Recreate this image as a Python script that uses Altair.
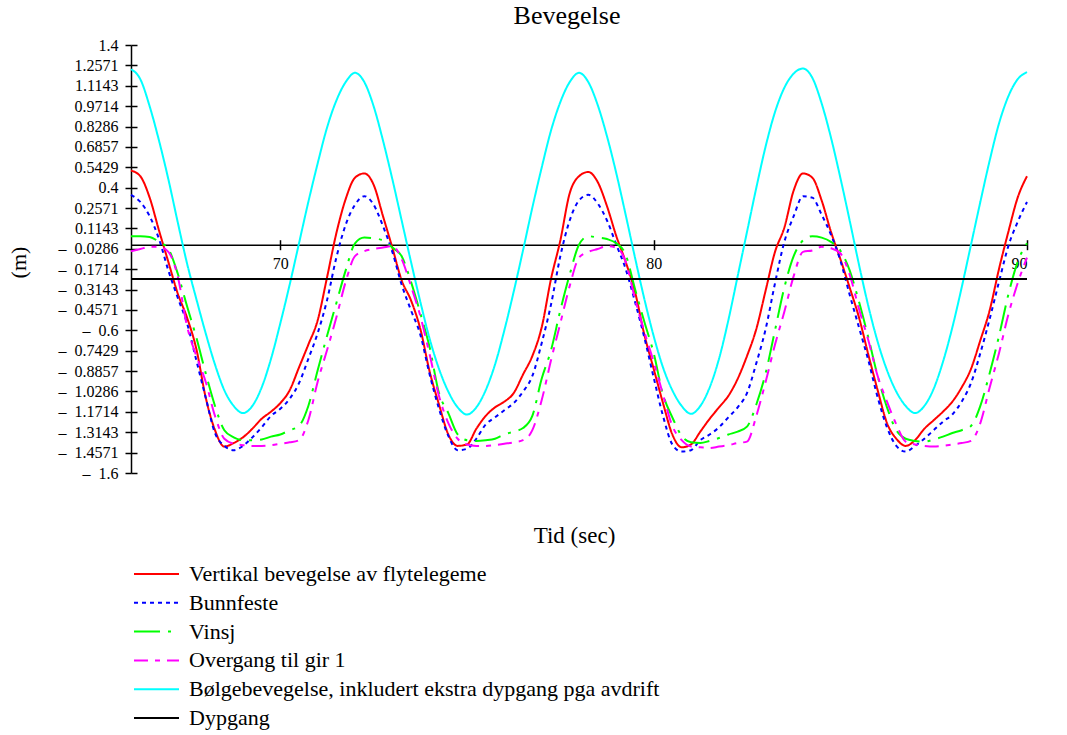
import altair as alt
import pandas as pd

# time axis (sec)
t = [66.0, 66.25, 66.5, 66.75, 67.0, 67.25, 67.5, 67.75, 68.0, 68.25, 68.5, 68.75,
     69.0, 69.25, 69.5, 69.75, 70.0, 70.25, 70.5, 70.75, 71.0, 71.25, 71.5, 71.75,
     72.0, 72.25, 72.5, 72.75, 73.0, 73.25, 73.5, 73.75, 74.0, 74.25, 74.5, 74.75,
     75.0, 75.25, 75.5, 75.75, 76.0, 76.25, 76.5, 76.75, 77.0, 77.25, 77.5, 77.75,
     78.0, 78.25, 78.5, 78.75, 79.0, 79.25, 79.5, 79.75, 80.0, 80.25, 80.5, 80.75,
     81.0, 81.25, 81.5, 81.75, 82.0, 82.25, 82.5, 82.75, 83.0, 83.25, 83.5, 83.75,
     84.0, 84.25, 84.5, 84.75, 85.0, 85.25, 85.5, 85.75, 86.0, 86.25, 86.5, 86.75,
     87.0, 87.25, 87.5, 87.75, 88.0, 88.25, 88.5, 88.75, 89.0, 89.25, 89.5, 89.75,
     90.0]

vertikal = [0.52, 0.48, 0.33, 0.10, -0.12, -0.34, -0.51, -0.73, -1.07, -1.30, -1.415, -1.39,
            -1.35, -1.29, -1.22, -1.17, -1.11, -1.02, -0.86, -0.70, -0.53, -0.23, 0.08, 0.32,
            0.47, 0.50, 0.42, 0.20, -0.02, -0.25, -0.39, -0.59, -0.89, -1.12, -1.33, -1.41,
            -1.40, -1.29, -1.20, -1.14, -1.10, -1.04, -0.91, -0.78, -0.58, -0.24, 0.03, 0.36,
            0.48, 0.51, 0.44, 0.27, 0.06, -0.12, -0.33, -0.63, -0.87, -1.11, -1.33, -1.42,
            -1.40, -1.31, -1.22, -1.14, -1.06, -0.94, -0.78, -0.59, -0.32, -0.05, 0.12, 0.38,
            0.50, 0.47, 0.31, 0.09, -0.10, -0.30, -0.51, -0.77, -1.02, -1.25, -1.36, -1.41,
            -1.37, -1.29, -1.23, -1.17, -1.10, -1.00, -0.87, -0.67, -0.46, -0.17, 0.09, 0.33,
            0.48]

bunnfeste = [0.35, 0.30, 0.20, 0.04, -0.18, -0.37, -0.55, -0.81, -1.07, -1.32, -1.41, -1.44,
             -1.41, -1.35, -1.28, -1.20, -1.15, -1.08, -0.97, -0.80, -0.62, -0.39, -0.09, 0.14,
             0.28, 0.34, 0.28, 0.13, -0.05, -0.28, -0.46, -0.63, -0.91, -1.15, -1.34, -1.44,
             -1.43, -1.36, -1.26, -1.21, -1.16, -1.11, -1.03, -0.92, -0.69, -0.42, -0.08, 0.17,
             0.31, 0.35, 0.29, 0.17, 0.00, -0.17, -0.40, -0.65, -0.93, -1.20, -1.40, -1.45,
             -1.44, -1.37, -1.33, -1.28, -1.21, -1.14, -1.04, -0.83, -0.59, -0.27, 0.02, 0.20,
             0.34, 0.33, 0.21, 0.07, -0.11, -0.35, -0.58, -0.81, -1.07, -1.28, -1.41, -1.45,
             -1.41, -1.36, -1.30, -1.24, -1.19, -1.10, -0.97, -0.76, -0.52, -0.26, -0.01, 0.16,
             0.30]

vinsj = [0.06, 0.06, 0.055, 0.02, -0.03, -0.20, -0.43, -0.65, -0.90, -1.13, -1.30, -1.35,
         -1.37, -1.37, -1.365, -1.345, -1.33, -1.30, -1.27, -1.13, -0.88, -0.64, -0.41, -0.18,
         0.01, 0.05, 0.045, 0.03, -0.02, -0.08, -0.26, -0.48, -0.72, -1.04, -1.18, -1.33,
         -1.37, -1.375, -1.37, -1.36, -1.33, -1.31, -1.285, -1.20, -0.94, -0.74, -0.46, -0.21,
         0.00, 0.06, 0.05, 0.04, 0.01, -0.07, -0.31, -0.54, -0.76, -1.05, -1.21, -1.34,
         -1.385, -1.39, -1.375, -1.355, -1.33, -1.31, -1.275, -1.12, -0.90, -0.60, -0.30, -0.08,
         0.03, 0.06, 0.05, 0.02, -0.04, -0.18, -0.40, -0.65, -0.92, -1.14, -1.30, -1.36,
         -1.375, -1.38, -1.365, -1.345, -1.32, -1.30, -1.27, -1.13, -0.90, -0.64, -0.35, -0.12,
         0.01]

gir1 = [-0.045, -0.03, -0.015, -0.014, -0.05, -0.22, -0.57, -0.78, -0.96, -1.20, -1.36, -1.395,
        -1.405, -1.41, -1.41, -1.405, -1.395, -1.385, -1.37, -1.23, -0.96, -0.74, -0.51, -0.26,
        -0.08, -0.045, -0.03, -0.02, -0.01, -0.10, -0.29, -0.50, -0.77, -1.06, -1.25, -1.36,
        -1.40, -1.41, -1.41, -1.405, -1.395, -1.385, -1.37, -1.30, -1.09, -0.81, -0.55, -0.29,
        -0.09, -0.05, -0.03, -0.01, -0.02, -0.12, -0.38, -0.61, -0.82, -1.05, -1.27, -1.37,
        -1.415, -1.42, -1.425, -1.415, -1.405, -1.39, -1.38, -1.20, -0.96, -0.70, -0.47, -0.22,
        -0.05, -0.04, -0.015, -0.025, -0.06, -0.21, -0.45, -0.67, -0.92, -1.10, -1.26, -1.38,
        -1.40, -1.41, -1.415, -1.41, -1.40, -1.39, -1.375, -1.25, -1.00, -0.76, -0.49, -0.27,
        -0.09]

bolge = [1.23, 1.16, 0.97, 0.73, 0.46, 0.16, -0.13, -0.38, -0.62, -0.84, -1.02, -1.13,
         -1.18, -1.13, -1.00, -0.80, -0.55, -0.28, 0.01, 0.30, 0.57, 0.82, 1.01, 1.14,
         1.205, 1.14, 0.97, 0.73, 0.46, 0.17, -0.12, -0.40, -0.66, -0.87, -1.03, -1.14,
         -1.19, -1.14, -1.02, -0.84, -0.60, -0.33, -0.04, 0.26, 0.54, 0.80, 1.00, 1.14,
         1.205, 1.14, 0.98, 0.76, 0.50, 0.21, -0.09, -0.38, -0.64, -0.86, -1.02, -1.13,
         -1.185, -1.13, -1.00, -0.80, -0.53, -0.22, 0.09, 0.40, 0.69, 0.93, 1.10, 1.20,
         1.235, 1.17, 0.99, 0.75, 0.47, 0.17, -0.14, -0.43, -0.68, -0.88, -1.03, -1.13,
         -1.18, -1.13, -1.01, -0.82, -0.58, -0.30, 0.00, 0.30, 0.59, 0.85, 1.04, 1.16,
         1.21]

dypgang_t = [66.0, 90.0]
dypgang_v = [-0.24, -0.24]

series = ["Vertikal bevegelse av flytelegeme", "Bunnfeste", "Vinsj",
          "Overgang til gir 1",
          "Bølgebevegelse, inkludert ekstra dypgang pga avdrift", "Dypgang"]
colors = ["#ff0000", "#0000ff", "#00ff00", "#ff00ff", "#00ffff", "#000000"]
dashes = [[1, 0], [4, 4], [26, 8, 3, 8], [14, 7, 5, 7], [1, 0], [1, 0]]

y_ticks = [1.4, 1.2571, 1.1143, 0.9714, 0.8286, 0.6857, 0.5429, 0.4, 0.2571, 0.1143,
           -0.0286, -0.1714, -0.3143, -0.4571, -0.6, -0.7429, -0.8857, -1.0286,
           -1.1714, -1.3143, -1.4571, -1.6]
x_ticks = [70, 80, 90]

rows = []
for name, vals in zip(series[:5], [vertikal, bunnfeste, vinsj, gir1, bolge]):
    for ti, v in zip(t, vals):
        rows.append({"t": ti, "v": v, "serie": name})
for ti, v in zip(dypgang_t, dypgang_v):
    rows.append({"t": ti, "v": v, "serie": series[5]})
df = pd.DataFrame(rows)
anchor_df = pd.DataFrame({"t": dypgang_t, "v": dypgang_v})

FONT = "Liberation Serif"
W, H = 896, 428
XSCALE = alt.Scale(domain=[66, 90], nice=False, zero=False)
YSCALE = alt.Scale(domain=[-1.6, 1.4], nice=False, zero=False)

legend = alt.Legend(
    title=None, orient="none", legendX=2, legendY=518, direction="vertical",
    symbolType="stroke", symbolSize=2025, symbolStrokeWidth=2,
    clipHeight=22, rowPadding=6.8, padding=0,
    labelFont=FONT, labelFontSize=22, labelColor="black", labelOffset=9,
    labelLimit=1000,
)

lines = alt.Chart(df).mark_line(strokeWidth=2, interpolate="monotone").encode(
    x=alt.X("t:Q", scale=XSCALE,
            axis=alt.Axis(orient="bottom", values=x_ticks, title="Tid (sec)", grid=False,
                          offset=-228.3, domainColor="black", domainWidth=1.5,
                          tickColor="black", tickWidth=1.5, tickSize=5,
                          labelPadding=6, labelFont=FONT, labelFontSize=16,
                          labelColor="black", titleFont=FONT, titleFontSize=23,
                          titleFontWeight="normal", titleColor="black",
                          titleX=443, titleY=291, titleBaseline="middle")),
    y=alt.Y("v:Q", scale=YSCALE,
            axis=alt.Axis(orient="left", values=y_ticks, grid=False,
                          labelExpr="datum.value < 0 ? '–\u00a0\u00a0' + format(-datum.value, '.4~f') : format(datum.value, '.4~f')",
                          domainColor="black", domainWidth=1.5,
                          tickColor="black", tickWidth=1.5, tickSize=6,
                          labelPadding=7, labelFont=FONT, labelFontSize=16,
                          labelColor="black", title="(m)", titleFont=FONT,
                          titleFontSize=22, titleFontWeight="normal",
                          titleColor="black", titleX=-113, titleY=217,
                          titleBaseline="middle")),
    color=alt.Color("serie:N", scale=alt.Scale(domain=series, range=colors), legend=legend),
    strokeDash=alt.StrokeDash("serie:N", scale=alt.Scale(domain=series, range=dashes), legend=legend),
)

# second set of axes so the tick marks cross the axis lines (as in the original)
cross_ticks = alt.Chart(anchor_df).mark_point(opacity=0).encode(
    x=alt.X("t:Q", scale=XSCALE,
            axis=alt.Axis(orient="top", offset=-199.7, values=x_ticks, labels=False,
                          domain=False, grid=False, tickColor="black", tickWidth=1.5,
                          tickSize=5, title=None)),
    y=alt.Y("v:Q", scale=YSCALE,
            axis=alt.Axis(orient="right", offset=-W, values=y_ticks, labels=False,
                          domain=False, grid=False, tickColor="black", tickWidth=1.5,
                          tickSize=6, title=None)),
)

chart = alt.layer(lines, cross_ticks).resolve_axis(x="independent", y="independent").properties(
    width=W, height=H,
    title=alt.TitleParams("Bevegelse", font=FONT, fontSize=26, fontWeight="normal",
                          color="black", anchor="middle", dx=-12, offset=8),
    autosize=alt.AutoSizeParams(type="none"),
    padding={"left": 131, "top": 45, "right": 40, "bottom": 262},
).configure_view(stroke="transparent")

chart.save("out.html", embed_options={"renderer": "svg", "actions": False})
